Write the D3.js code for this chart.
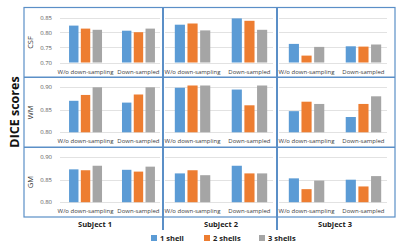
<!DOCTYPE html>
<html>
<head>
<meta charset="utf-8">
<script src="https://cdn.jsdelivr.net/npm/d3@7"></script>
<style>
  body { margin: 0; background: #fff; }
  text { font-family: "Open Sans", "Liberation Sans", sans-serif; }
</style>
</head>
<body>
<div id="chart-area"></div>
<script>
// Data
var subjects = ["Subject 1", "Subject 2", "Subject 3"];
var categories = ["W/o down-sampling", "Down-sampled"];
var shells = ["1 shell", "2 shells", "3 shells"];
var tissues = ["CSF", "WM", "GM"];

// values[subject][category][shell]
var csfValues = [
    [[0.823, 0.813, 0.809], [0.806, 0.801, 0.813]],
    [[0.826, 0.830, 0.807], [0.847, 0.839, 0.809]],
    [[0.762, 0.723, 0.752], [0.754, 0.753, 0.760]]
];
var wmValues = [
    [[0.870, 0.883, 0.900], [0.866, 0.884, 0.900]],
    [[0.899, 0.904, 0.904], [0.895, 0.860, 0.904]],
    [[0.847, 0.868, 0.863], [0.834, 0.863, 0.880]]
];
var gmValues = [
    [[0.873, 0.871, 0.881], [0.872, 0.868, 0.879]],
    [[0.864, 0.871, 0.860], [0.881, 0.864, 0.864]],
    [[0.853, 0.829, 0.848], [0.850, 0.835, 0.858]]
];
var csfTicks = [0.70, 0.75, 0.80, 0.85];
var wmTicks = [0.80, 0.85, 0.90];
var gmTicks = [0.80, 0.85, 0.90];

var rows = [
    {name: "CSF", values: csfValues, ticks: csfTicks},
    {name: "WM", values: wmValues, ticks: wmTicks},
    {name: "GM", values: gmValues, ticks: gmTicks}
];

var colors = ["#5b9bd5", "#ed7d31", "#a5a5a5"];
var frameColor = "#5b8fc7";

//Canvas
var svg = d3.select("#chart-area")
    .append("svg")
    .attr("width", 400)
    .attr("height", 250);

// layout of the panel grid
var rowTops = [7.5, 77.3, 147.2];
var rowBottom = 217;
var colEdges = [24, 163, 277, 395];
var plotRanges = [[59, 165], [164, 278], [278, 392]];

var color = d3.scaleOrdinal().domain(shells).range(colors);

rows.forEach(function (row, r) {
    var top = rowTops[r];
    var y = d3.scaleLinear()
        .domain([row.ticks[0], row.ticks[row.ticks.length - 1]])
        .range([top + 55, top + 10]);

    subjects.forEach(function (s, c) {
        var pr = plotRanges[c];
        var x0 = d3.scaleBand()
            .domain(categories)
            .range(pr)
            .paddingInner(0.377)
            .paddingOuter(0.19);
        var x1 = d3.scaleBand()
            .domain(shells)
            .range([0, x0.bandwidth()])
            .paddingInner(0.2)
            .paddingOuter(0);

        var g = svg.append("g");

        // gridlines
        g.selectAll("line.grid")
            .data(row.ticks)
            .enter()
            .append("line")
            .attr("x1", pr[0] + 1)
            .attr("x2", pr[1] - 5)
            .attr("y1", function (d) { return Math.round(y(d)) + 0.5; })
            .attr("y2", function (d) { return Math.round(y(d)) + 0.5; })
            .attr("stroke", "#e2e2e2")
            .attr("stroke-width", 1);

        // bars
        categories.forEach(function (cat, k) {
            g.selectAll("rect.b" + k)
                .data(row.values[c][k])
                .enter()
                .append("rect")
                .attr("x", function (d, i) { return x0(cat) + x1(shells[i]); })
                .attr("y", function (d) { return y(d); })
                .attr("width", x1.bandwidth())
                .attr("height", function (d) { return y.range()[0] - y(d); })
                .attr("fill", function (d, i) { return color(shells[i]); });
        });

        // category labels
        g.selectAll("text.cat")
            .data(categories)
            .enter()
            .append("text")
            .attr("x", function (d) { return x0(d) + x0.bandwidth() / 2; })
            .attr("y", top + 66)
            .attr("text-anchor", "middle")
            .attr("font-size", "6px")
            .attr("fill", "#404040")
            .text(function (d) { return d; });

        // tick labels only in first column
        if (c === 0) {
            g.selectAll("text.tick")
                .data(row.ticks)
                .enter()
                .append("text")
                .attr("x", 52)
                .attr("y", function (d) { return y(d) + 2; })
                .attr("text-anchor", "end")
                .attr("font-size", "6px")
                .attr("fill", "#595959")
                .text(function (d) { return d3.format(".2f")(d); });

            svg.append("text")
                .attr("transform", "translate(33," + (top + 35) + ") rotate(-90)")
                .attr("text-anchor", "middle")
                .attr("font-size", "7.5px")
                .attr("fill", "#333")
                .text(row.name);
        }
    });
});

// frame
svg.append("rect")
    .attr("x", colEdges[0])
    .attr("y", rowTops[0])
    .attr("width", colEdges[3] - colEdges[0])
    .attr("height", rowBottom - rowTops[0])
    .attr("fill", "none")
    .attr("stroke", frameColor)
    .attr("stroke-width", 1.2);

[rowTops[1], rowTops[2]].forEach(function (yy) {
    svg.append("line")
        .attr("x1", colEdges[0]).attr("x2", colEdges[3])
        .attr("y1", yy).attr("y2", yy)
        .attr("stroke", frameColor)
        .attr("stroke-width", 1.5);
});
[colEdges[1], colEdges[2]].forEach(function (xx) {
    svg.append("line")
        .attr("x1", xx).attr("x2", xx)
        .attr("y1", rowTops[0]).attr("y2", 230)
        .attr("stroke", frameColor)
        .attr("stroke-width", 2);
});

// subject labels
svg.selectAll("text.subj")
    .data(subjects)
    .enter()
    .append("text")
    .attr("x", function (d, i) { return (plotRanges[i][0] + plotRanges[i][1]) / 2 - 17 * (i === 0); })
    .attr("y", 227)
    .attr("text-anchor", "middle")
    .attr("font-size", "7.5px")
    .attr("font-weight", "bold")
    .attr("fill", "#222")
    .text(function (d) { return d; });

// big y title
svg.append("text")
    .attr("transform", "translate(19,112) rotate(-90)")
    .attr("text-anchor", "middle")
    .attr("font-size", "12.5px")
    .attr("font-weight", "bold")
    .attr("fill", "#111")
    .text("DICE scores");

// legend
var legendX = [151, 204, 259];
var legend = svg.selectAll("g.legend")
    .data(shells)
    .enter()
    .append("g")
    .attr("transform", function (d, i) { return "translate(" + legendX[i] + ",235)"; });
legend.append("rect")
    .attr("width", 6)
    .attr("height", 6)
    .attr("fill", function (d) { return color(d); });
legend.append("text")
    .attr("x", 9)
    .attr("y", 5.5)
    .attr("font-size", "7.5px")
    .attr("font-weight", "bold")
    .attr("fill", "#222")
    .text(function (d) { return d; });
</script>
</body>
</html>
